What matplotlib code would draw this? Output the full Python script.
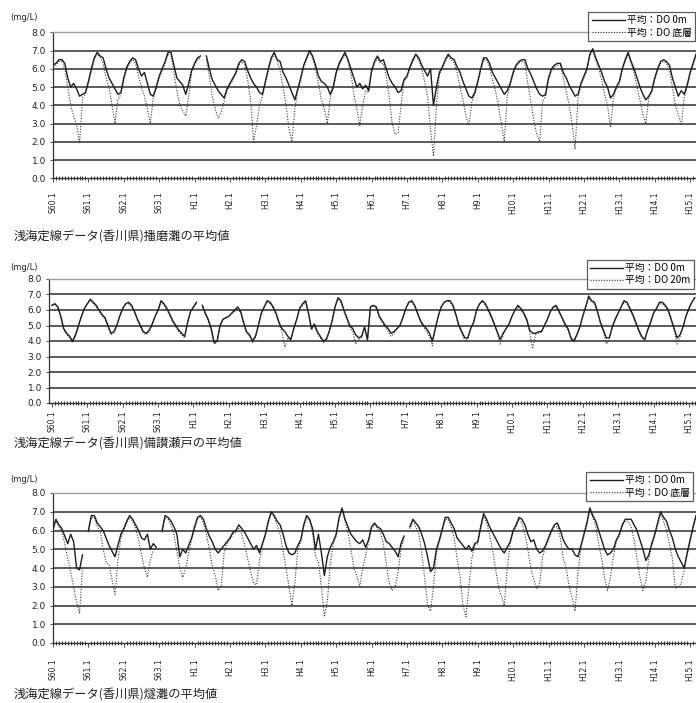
import numpy as np
import matplotlib
matplotlib.use('Agg')
import matplotlib.pyplot as plt

nan = float('nan')

# ---------------- labels ----------------
tick_labels = ['S60.1', 'S61.1', 'S62.1', 'S63.1', 'H1.1', 'H2.1', 'H3.1', 'H4.1',
               'H5.1', 'H6.1', 'H7.1', 'H8.1', 'H9.1', 'H10.1', 'H11.1', 'H12.1',
               'H13.1', 'H14.1', 'H15.1']
y_ticks = [0, 1, 2, 3, 4, 5, 6, 7, 8]
unit_label = '(mg/L)'
titles = ['浅海定線データ(香川県)播磨灘の平均値',
          '浅海定線データ(香川県)備讃瀬戸の平均値',
          '浅海定線データ(香川県)燧灘の平均値']
legend_harima = ['平均：DO 0m', '平均：DO 底層']
legend_bisan = ['平均：DO 0m', '平均：DO 20m']
legend_hiuchi = ['平均：DO 0m', '平均：DO 底層']

# ---------------- data (monthly, Jan 1985 - Mar 2003) ----------------
harima_0m = [
    6.2, 6.3, 6.5, 6.5, 6.3, 5.5, 5.0, 5.2, 4.9, 4.5, 4.6, 4.7,   # 1985
    5.3, 6.0, 6.6, 6.9, 6.7, 6.6, 6.0, 5.5, 5.2, 4.9, 4.6, 4.7,   # 1986
    5.5, 6.1, 6.4, 6.6, 6.5, 6.0, 5.6, 5.8, 5.2, 4.6, 4.5, 5.0,   # 1987
    5.6, 6.0, 6.4, 6.9, 6.9, 6.2, 5.5, 5.3, 5.1, 4.6, 5.2, 5.9,   # 1988
    6.3, 6.6, 6.7, nan, 6.7, 6.0, 5.4, 5.1, 4.8, 4.6, 4.4, 4.9,   # 1989
    5.2, 5.5, 5.8, 6.3, 6.5, 6.4, 5.9, 5.5, 5.2, 5.0, 4.7, 4.6,   # 1990
    5.3, 6.0, 6.6, 6.9, 6.5, 6.4, 5.8, 5.5, 5.1, 4.7, 4.3, 4.9,   # 1991
    5.5, 6.2, 6.6, 7.0, 6.7, 6.2, 5.6, 5.3, 5.2, 5.0, 4.6, 5.0,   # 1992
    5.8, 6.3, 6.6, 6.9, 6.5, 6.0, 5.5, 5.0, 5.2, 4.9, 5.1, 4.8,   # 1993
    5.9, 6.4, 6.7, 6.4, 6.5, 6.0, 5.5, 5.2, 5.0, 4.7, 4.8, 5.4,   # 1994
    5.6, 6.1, 6.5, 6.8, 6.6, 6.2, 5.9, 5.6, 6.0, 4.0, 5.0, 5.8,   # 1995
    6.1, 6.5, 6.8, 6.6, 6.5, 6.1, 5.8, 5.3, 4.9, 4.5, 4.4, 4.7,   # 1996
    5.3, 6.0, 6.6, 6.6, 6.3, 5.8, 5.5, 5.2, 4.9, 4.6, 4.8, 5.2,   # 1997
    5.8, 6.2, 6.4, 6.5, 6.5, 6.0, 5.7, 5.3, 4.9, 4.6, 4.5, 4.6,   # 1998
    5.5, 6.0, 6.2, 6.3, 6.3, 5.8, 5.5, 5.1, 4.8, 4.5, 4.6, 5.2,   # 1999
    5.6, 6.0, 6.8, 7.1, 6.6, 6.2, 5.8, 5.3, 5.0, 4.4, 4.6, 5.0,   # 2000
    5.3, 6.0, 6.5, 6.9, 6.4, 6.0, 5.5, 5.0, 4.6, 4.3, 4.5, 4.8,   # 2001
    5.5, 6.0, 6.4, 6.5, 6.4, 6.2, 5.5, 5.0, 4.5, 4.8, 4.6, 5.1,   # 2002
    5.8, 6.3, 6.8,                                                # 2003
]
harima_bottom = [
    6.1, 6.2, 6.4, 6.4, 6.0, 5.0, 4.0, 3.4, 3.0, 1.9, 4.4, 4.6,   # 1985
    5.2, 5.9, 6.5, 6.8, 6.6, 6.3, 5.5, 5.0, 4.0, 3.0, 4.3, 4.6,   # 1986
    5.4, 6.0, 6.3, 6.5, 6.3, 5.6, 5.0, 4.5, 3.8, 3.0, 4.4, 4.9,   # 1987
    5.5, 5.9, 6.3, 6.8, 6.7, 5.8, 4.8, 4.0, 3.7, 3.4, 4.5, 5.8,   # 1988
    6.2, 6.5, 6.6, nan, 6.5, 5.6, 4.5, 3.8, 3.3, 3.6, 4.2, 4.8,   # 1989
    5.1, 5.4, 5.7, 6.2, 6.4, 6.2, 5.4, 4.3, 2.0, 2.9, 4.0, 4.5,   # 1990
    5.2, 5.9, 6.5, 6.8, 6.4, 5.9, 5.0, 4.0, 2.7, 2.0, 3.8, 4.8,   # 1991
    5.4, 6.1, 6.5, 6.9, 6.6, 6.0, 5.2, 4.3, 3.8, 3.0, 4.4, 4.9,   # 1992
    5.7, 6.2, 6.5, 6.8, 6.4, 5.8, 4.6, 3.8, 2.9, 4.0, 4.8, 4.7,   # 1993
    5.8, 6.3, 6.6, 6.3, 6.3, 5.6, 4.4, 3.0, 2.4, 2.5, 4.0, 5.3,   # 1994
    5.5, 6.0, 6.4, 6.7, 6.5, 6.0, 5.3, 4.5, 2.7, 1.2, 4.0, 5.7,   # 1995
    6.0, 6.4, 6.7, 6.5, 6.3, 5.8, 5.0, 4.3, 3.4, 2.9, 4.2, 4.6,   # 1996
    5.2, 5.9, 6.5, 6.5, 6.1, 5.4, 4.8, 4.0, 3.0, 2.0, 4.5, 5.1,   # 1997
    5.7, 6.1, 6.3, 6.4, 6.3, 5.2, 4.2, 3.2, 2.4, 2.0, 4.2, 4.5,   # 1998
    5.4, 5.9, 6.1, 6.2, 6.2, 5.5, 4.8, 4.0, 3.0, 1.6, 4.4, 5.1,   # 1999
    5.5, 5.9, 6.7, 7.0, 6.5, 6.0, 5.4, 4.6, 4.0, 2.8, 4.4, 4.9,   # 2000
    5.2, 5.9, 6.4, 6.8, 6.3, 5.8, 5.0, 4.3, 3.5, 3.0, 4.4, 4.7,   # 2001
    5.4, 5.9, 6.3, 6.4, 6.3, 5.9, 5.0, 4.0, 3.5, 2.9, 4.4, 5.0,   # 2002
    5.7, 6.2, 6.7,                                                # 2003
]
bisan_0m = [
    6.3, 6.4, 6.2, 5.6, 4.8, 4.5, 4.3, 4.0, 4.4, 5.0, 5.6, 6.1,   # 1985
    6.4, 6.7, 6.5, 6.3, 6.0, 5.7, 5.5, 5.0, 4.5, 4.6, 5.0, 5.6,   # 1986
    6.1, 6.4, 6.5, 6.3, 5.9, 5.4, 5.0, 4.6, 4.5, 4.7, 5.1, 5.6,   # 1987
    6.0, 6.6, 6.4, 6.1, 5.7, 5.3, 5.0, 4.7, 4.5, 4.3, 5.2, 5.9,   # 1988
    6.2, 6.5, nan, 6.3, 5.8, 5.4, 4.8, 3.9, 4.0, 5.0, 5.4, 5.5,   # 1989
    5.6, 5.8, 6.0, 6.2, 5.9, 5.2, 4.6, 4.4, 4.0, 4.3, 5.0, 5.8,   # 1990
    6.2, 6.6, 6.5, 6.2, 5.8, 5.2, 4.8, 4.6, 4.3, 4.1, 4.8, 5.4,   # 1991
    6.1, 6.4, 6.6, 5.8, 4.8, 5.1, 4.6, 4.3, 4.0, 4.1, 4.6, 5.3,   # 1992
    6.2, 6.8, 6.6, 6.0, 5.5, 5.0, 4.8, 4.4, 4.2, 4.3, 4.9, 4.1,   # 1993
    6.2, 6.3, 6.2, 5.6, 5.3, 5.0, 4.8, 4.5, 4.6, 4.8, 5.0, 5.5,   # 1994
    6.1, 6.5, 6.6, 6.3, 5.8, 5.3, 5.0, 4.8, 4.5, 4.0, 4.8, 5.6,   # 1995
    6.2, 6.5, 6.6, 6.6, 6.3, 5.7, 5.0, 4.6, 4.2, 4.2, 4.8, 5.2,   # 1996
    6.0, 6.4, 6.6, 6.4, 6.0, 5.6, 5.1, 4.6, 4.1, 4.5, 4.8, 5.1,   # 1997
    5.6, 6.0, 6.3, 6.1, 5.8, 5.4, 4.7, 4.5, 4.5, 4.6, 4.6, 5.0,   # 1998
    5.4, 5.9, 6.2, 6.3, 5.9, 5.5, 5.1, 4.8, 4.2, 4.0, 4.4, 4.9,   # 1999
    5.6, 6.2, 6.9, 6.6, 6.5, 5.9, 5.2, 4.7, 4.2, 4.2, 4.9, 5.4,   # 2000
    5.8, 6.2, 6.6, 6.5, 6.1, 5.7, 5.2, 4.7, 4.3, 4.1, 4.7, 5.2,   # 2001
    5.8, 6.1, 6.5, 6.5, 6.3, 6.0, 5.4, 4.8, 4.2, 4.4, 4.9, 5.6,   # 2002
    6.1, 6.5, 6.8,                                                # 2003
]
bisan_20m = [
    6.3, 6.4, 6.1, 5.5, 4.7, 4.4, 4.2, 3.9, 4.3, 5.0, 5.6, 6.1,   # 1985
    6.4, 6.6, 6.4, 6.2, 5.9, 5.6, 5.4, 4.9, 4.4, 4.5, 5.0, 5.6,   # 1986
    6.1, 6.4, 6.4, 6.2, 5.8, 5.3, 4.9, 4.5, 4.4, 4.6, 5.1, 5.6,   # 1987
    6.0, 6.5, 6.3, 6.0, 5.6, 5.2, 4.9, 4.6, 4.4, 4.2, 5.2, 5.9,   # 1988
    6.2, 6.4, nan, 6.2, 5.7, 5.3, 4.7, 3.8, 3.9, 5.0, 5.4, 5.5,   # 1989
    5.6, 5.8, 5.9, 6.1, 5.8, 5.1, 4.5, 4.3, 3.9, 4.2, 5.0, 5.8,   # 1990
    6.2, 6.5, 6.4, 6.1, 5.7, 5.1, 4.6, 3.6, 4.2, 4.0, 4.8, 5.4,   # 1991
    6.1, 6.3, 6.5, 5.7, 4.7, 5.0, 4.5, 4.2, 3.9, 4.0, 4.6, 5.3,   # 1992
    6.2, 6.7, 6.5, 5.9, 5.4, 4.9, 4.6, 3.8, 4.1, 4.2, 4.9, 4.0,   # 1993
    6.2, 6.3, 6.1, 5.5, 5.2, 4.9, 4.6, 4.3, 4.5, 4.8, 5.0, 5.5,   # 1994
    6.1, 6.5, 6.5, 6.2, 5.7, 5.2, 4.9, 4.6, 4.3, 3.7, 4.8, 5.6,   # 1995
    6.2, 6.5, 6.6, 6.5, 6.2, 5.6, 4.9, 4.5, 4.0, 4.1, 4.8, 5.2,   # 1996
    6.0, 6.4, 6.5, 6.3, 5.9, 5.5, 5.0, 4.5, 3.8, 4.4, 4.8, 5.1,   # 1997
    5.6, 6.0, 6.2, 6.0, 5.7, 5.3, 4.6, 3.5, 4.4, 4.5, 4.6, 5.0,   # 1998
    5.4, 5.9, 6.1, 6.2, 5.8, 5.4, 5.0, 4.7, 4.1, 3.9, 4.4, 4.9,   # 1999
    5.6, 6.2, 6.8, 6.5, 6.4, 5.8, 5.1, 4.6, 3.8, 4.1, 4.9, 5.4,   # 2000
    5.8, 6.2, 6.5, 6.4, 6.0, 5.6, 5.1, 4.6, 4.2, 4.0, 4.7, 5.2,   # 2001
    5.8, 6.1, 6.4, 6.4, 6.2, 5.9, 5.3, 4.7, 3.8, 4.3, 4.9, 5.6,   # 2002
    6.1, 6.5, 6.8,                                                # 2003
]
hiuchi_0m = [
    6.1, 6.6, 6.3, 6.1, 5.7, 5.3, 5.8, 5.4, 4.0, 3.9, 4.7, nan,   # 1985
    6.0, 6.8, 6.8, 6.4, 6.2, 6.0, 5.6, 5.2, 4.9, 4.6, 5.2, 5.8,   # 1986
    6.1, 6.5, 6.8, 6.6, 6.3, 6.0, 5.6, 5.5, 5.8, 5.0, 5.3, 5.1,   # 1987
    nan, 6.0, 6.8, 6.7, 6.5, 6.2, 5.8, 4.6, 5.0, 4.8, 5.2, 5.6,   # 1988
    6.2, 6.7, 6.8, 6.6, 6.1, 5.7, 5.4, 5.0, 4.8, 5.0, 5.2, 5.4,   # 1989
    5.6, 5.9, 6.0, 6.3, 6.1, 5.9, 5.6, 5.3, 5.0, 5.2, 4.8, 5.3,   # 1990
    5.8, 6.5, 7.0, 6.8, 6.5, 6.3, 5.8, 5.2, 4.8, 4.7, 4.8, 5.2,   # 1991
    5.5, 6.3, 6.8, 6.6, 6.1, 5.0, 5.8, 4.8, 3.6, 4.6, 5.1, 5.4,   # 1992
    5.8, 6.7, 7.2, 6.6, 6.2, 5.8, 5.6, 5.4, 5.3, 5.5, 5.1, 5.5,   # 1993
    6.2, 6.4, 6.2, 6.1, 5.8, 5.4, 5.3, 5.1, 4.9, 4.6, 5.3, 5.7,   # 1994
    nan, 6.2, 6.6, 6.4, 6.2, 5.8, 5.3, 4.6, 3.8, 4.0, 5.0, 5.5,   # 1995
    6.1, 6.7, 6.7, 6.4, 6.1, 5.6, 5.4, 5.2, 5.0, 5.2, 4.9, 5.3,   # 1996
    5.4, 6.2, 6.9, 6.6, 6.2, 5.9, 5.6, 5.3, 5.0, 4.8, 5.1, 5.4,   # 1997
    6.0, 6.3, 6.7, 6.6, 6.3, 5.8, 5.4, 5.5, 5.0, 4.8, 4.9, 5.2,   # 1998
    5.6, 6.0, 6.3, 6.4, 6.0, 5.5, 5.2, 5.0, 5.0, 4.7, 4.6, 5.2,   # 1999
    5.8, 6.4, 7.2, 6.8, 6.5, 6.0, 5.5, 5.0, 4.7, 4.8, 5.0, 5.5,   # 2000
    5.8, 6.3, 6.6, 6.6, 6.6, 6.3, 6.0, 5.5, 5.0, 4.4, 4.7, 5.3,   # 2001
    5.8, 6.4, 7.0, 6.7, 6.5, 6.0, 5.6, 5.0, 4.6, 4.3, 4.0, 4.8,   # 2002
    5.5, 6.2, 6.8,                                                # 2003
]
hiuchi_bottom = [
    6.0, 6.5, 6.2, 5.9, 5.3, 4.5, 3.8, 3.0, 2.2, 1.6, 4.0, nan,   # 1985
    5.9, 6.7, 6.7, 6.2, 6.0, 5.0, 4.3, 4.2, 3.4, 2.6, 4.4, 5.6,   # 1986
    6.0, 6.4, 6.7, 6.5, 6.1, 5.5, 4.7, 4.0, 3.5, 4.4, 5.0, 5.0,   # 1987
    nan, 5.9, 6.7, 6.6, 6.3, 5.8, 4.9, 4.0, 3.5, 4.0, 4.8, 5.5,   # 1988
    6.1, 6.6, 6.7, 6.4, 5.8, 5.0, 4.1, 3.6, 2.8, 3.0, 4.8, 5.3,   # 1989
    5.5, 5.8, 5.9, 6.1, 5.8, 5.2, 4.5, 3.8, 3.2, 3.1, 4.4, 5.2,   # 1990
    5.7, 6.4, 6.9, 6.7, 6.3, 5.8, 4.9, 4.0, 3.0, 2.0, 3.2, 5.0,   # 1991
    5.4, 6.2, 6.7, 6.5, 5.9, 4.6, 4.3, 3.0, 1.4, 2.2, 4.2, 5.3,   # 1992
    5.7, 6.6, 7.1, 6.5, 5.9, 5.0, 4.0, 3.6, 3.0, 4.0, 4.7, 5.4,   # 1993
    6.1, 6.3, 6.1, 5.9, 5.3, 4.2, 3.2, 2.8, 3.0, 3.8, 5.0, 5.6,   # 1994
    nan, 6.1, 6.5, 6.2, 5.8, 4.8, 3.5, 2.0, 1.7, 3.0, 4.8, 5.4,   # 1995
    6.0, 6.6, 6.6, 6.2, 5.6, 4.5, 3.5, 2.0, 1.4, 3.0, 4.5, 5.2,   # 1996
    5.3, 6.1, 6.8, 6.4, 5.8, 5.0, 4.0, 3.0, 2.5, 2.0, 4.0, 5.3,   # 1997
    5.9, 6.2, 6.6, 6.4, 5.8, 5.0, 4.0, 3.4, 2.9, 3.2, 4.6, 5.1,   # 1998
    5.5, 5.9, 6.2, 6.2, 5.6, 4.5, 4.0, 3.0, 2.4, 1.7, 3.8, 5.1,   # 1999
    5.7, 6.3, 7.1, 6.7, 6.2, 5.3, 4.5, 3.5, 2.8, 3.5, 4.6, 5.4,   # 2000
    5.7, 6.2, 6.5, 6.5, 6.2, 5.5, 4.5, 3.5, 2.8, 3.3, 4.5, 5.2,   # 2001
    5.7, 6.3, 6.9, 6.5, 6.0, 5.3, 4.5, 2.9, 3.0, 3.2, 3.9, 4.7,   # 2002
    5.4, 6.1, 6.7,                                                # 2003
]

# ---------------- drawing ----------------
W, H = 696, 703
fig = plt.figure(figsize=(W / 100, H / 100), dpi=100)
CJK = ['Noto Sans CJK JP', 'DejaVu Sans']
TXT = '#222222'


def px_rect(left, top, right, bottom):
    return [left / W, 1 - bottom / H, (right - left) / W, (bottom - top) / H]


def panel(rect, surf, bott, leg_labels, xlim, tick_pad, title, title_y, unit_y, leg_box):
    ax = fig.add_axes(rect)
    x = np.arange(len(surf))
    ax.plot(x, np.array(bott, float), color='#3a3a3a', lw=0.8, ls=(0, (1.0, 1.4)),
            zorder=3, label=leg_labels[1])
    ax.plot(x, np.array(surf, float), color='#1e1e1e', lw=1.0, zorder=4, label=leg_labels[0])
    ax.set_xlim(*xlim)
    ax.set_ylim(0, 8)
    for v in y_ticks[1:-1]:
        ax.axhline(v, color='#4d4d4d', lw=1.3, zorder=1)
    ax.set_yticks(y_ticks)
    ax.set_yticklabels([f'{v:.1f}' for v in y_ticks])
    ax.set_xticks(np.arange(0, 12 * len(tick_labels), 12))
    ax.set_xticklabels(tick_labels, rotation=90, va='top', ha='center')
    ax.set_xticks(np.arange(0, len(surf)), minor=True)
    ax.tick_params(axis='y', labelsize=6.5, length=2, width=0.6, pad=3, colors='#333333',
                   labelcolor=TXT)
    ax.tick_params(axis='x', which='major', labelsize=5.5, length=3, width=0.6,
                   pad=tick_pad, colors='#333333', labelcolor=TXT)
    ax.tick_params(axis='x', which='minor', length=2.5, width=0.7, direction='inout',
                   colors='#333333')
    ax.spines['right'].set_visible(False)
    ax.spines['top'].set_color('#a0a0a0')
    ax.spines['top'].set_linewidth(1.0)
    ax.spines['left'].set_color('#333333')
    ax.spines['left'].set_linewidth(0.9)
    ax.spines['bottom'].set_color('#333333')
    ax.spines['bottom'].set_linewidth(1.0)
    handles, labels = ax.get_legend_handles_labels()
    l, t, r, b = leg_box
    leg = ax.legend(handles[::-1], labels[::-1], loc='upper right',
                    bbox_to_anchor=(r / W, 1 - t / H), bbox_transform=fig.transFigure,
                    prop={'family': CJK, 'size': 7}, frameon=True, fancybox=False,
                    edgecolor='#333333', handlelength=3.4, handletextpad=0.2,
                    borderpad=0.35, labelspacing=0.2, borderaxespad=0)
    leg.get_frame().set_linewidth(0.9)
    leg.set_zorder(10)
    fig.text(10 / W, 1 - unit_y / H, unit_label, fontsize=6, color=TXT, va='center',
             ha='left')
    fig.text(14 / W, 1 - title_y / H, title, fontsize=8.8, color=TXT, va='center',
             ha='left', family=CJK)
    return ax


panel(px_rect(53, 32.3, 696, 178.3), harima_0m, harima_bottom, legend_harima,
      (0, 218), 6.5, titles[0], 237, 17, (588, 12, 695, 41))
panel(px_rect(49, 279, 696, 403), bisan_0m, bisan_20m, legend_bisan,
      (-1.0, 218.4), 2.5, titles[1], 444, 268, (595, 260, 694, 289))
panel(px_rect(53, 493, 696, 643), hiuchi_0m, hiuchi_bottom, legend_hiuchi,
      (0, 218), 8.0, titles[2], 695, 479, (588, 472, 693, 500))

fig.savefig('out.png', dpi=100, facecolor='white')
